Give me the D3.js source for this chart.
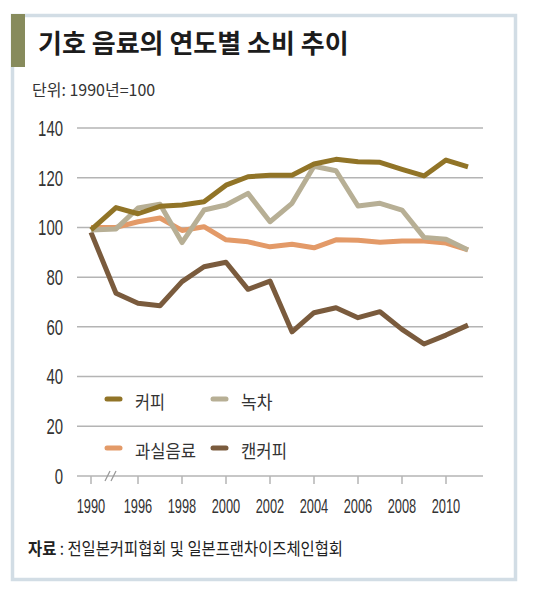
<!DOCTYPE html>
<html><head><meta charset="utf-8">
<script src="https://cdn.jsdelivr.net/npm/d3@7"></script>
<style>
html,body{margin:0;padding:0;background:#fff;}
svg{display:block;}
</style></head>
<body>
<svg id="chart" width="540" height="593"></svg>
<script>
const years = [1990, 1995, 1996, 1997, 1998, 1999, 2000, 2001, 2002, 2003, 2004, 2005, 2006, 2007, 2008, 2009, 2010, 2011];
const coffee = [99, 108, 105.5, 108.5, 109, 110.3, 117, 120.4, 121, 121, 125.5, 127.4, 126.4, 126.2, 123.4, 120.7, 127.1, 124.4];
const greenTea = [99, 99.4, 107.8, 109.3, 93.9, 107, 109, 113.7, 102.3, 109.7, 124.6, 122.8, 108.6, 109.7, 107, 96, 95.2, 90.9];
const juice = [100, 100, 102.3, 103.8, 98.8, 100.3, 95, 94.2, 92.2, 93.2, 91.8, 95, 94.8, 94, 94.5, 94.5, 93.7, 91];
const cannedCoffee = [98, 73.5, 69.5, 68.5, 78.2, 84.2, 86, 75.1, 78.4, 58, 65.7, 67.7, 63.7, 66.1, 59, 53.1, 56.7, 60.7];
const seriesNames = ["커피", "녹차", "과실음료", "캔커피"];
const tickYears = [1990, 1996, 1998, 2000, 2002, 2004, 2006, 2008, 2010];
const yTicks = [0, 20, 40, 60, 80, 100, 120, 140];
const title = "기호 음료의 연도별 소비 추이";
const unitText = "단위: 1990년=100";
const sourceLabel = "자료";
const sourceText = " : 전일본커피협회 및 일본프랜차이즈체인협회";

const colors = {"커피": "#917427", "녹차": "#b7af95", "과실음료": "#e39a68", "캔커피": "#7a5b3d"};
const seriesData = {"커피": coffee, "녹차": greenTea, "과실음료": juice, "캔커피": cannedCoffee};

const svg = d3.select("#chart");
const KR = "'Noto Sans CJK KR','Noto Sans',sans-serif";
const NUM = "'Liberation Sans',Arial,sans-serif";

// frame
svg.append("rect").attr("x", 12.5).attr("y", 15.5).attr("width", 503).attr("height", 564)
  .attr("fill", "#fff").attr("stroke", "#d2dde5").attr("stroke-width", 3.5);
svg.append("rect").attr("x", 11).attr("y", 14).attr("width", 14).attr("height", 53).attr("fill", "#878b5c");

svg.append("text").attr("x", 38).attr("y", 53).attr("font-family", KR).attr("font-weight", 700)
  .attr("font-size", 26).attr("fill", "#1c1c1c").text(title);
svg.append("text").attr("x", 32).attr("y", 96).attr("font-family", KR)
  .attr("font-size", 16).attr("fill", "#333").text(unitText);

const x = d3.scaleLinear().domain([1990, 1995, 2011]).range([91, 116, 468]);
const y = d3.scaleLinear().domain([0, 140]).range([476, 128]);
const left = 77, right = 483;

// grid
svg.append("g").selectAll("line").data(yTicks).join("line")
  .attr("x1", left).attr("x2", right).attr("y1", d => y(d)).attr("y2", d => y(d))
  .attr("stroke", "#b4b4b4").attr("stroke-width", 1.5);

// y labels
svg.append("g").selectAll("text").data(yTicks).join("text")
  .attr("x", 63).attr("y", d => y(d)).attr("dy", "0.36em").attr("text-anchor", "end")
  .attr("font-family", NUM).attr("font-size", 22).attr("fill", "#333")
  .attr("textLength", d => String(d).length * 8.3).attr("lengthAdjust", "spacingAndGlyphs")
  .text(d => d);

// x axis ticks
svg.append("g").selectAll("line").data(tickYears).join("line")
  .attr("x1", d => x(d)).attr("x2", d => x(d)).attr("y1", y(0)).attr("y2", y(0) + 8)
  .attr("stroke", "#b4b4b4").attr("stroke-width", 1.5);
svg.append("g").selectAll("text").data(tickYears).join("text")
  .attr("x", d => x(d)).attr("y", 513).attr("text-anchor", "middle")
  .attr("font-family", NUM).attr("font-size", 21).attr("fill", "#333")
  .attr("textLength", 28.5).attr("lengthAdjust", "spacingAndGlyphs")
  .text(d => d);

// axis break marks
const bx = (x(1990) + x(1995)) / 2 + 7;
[-3, 3].forEach(o => {
  svg.append("line").attr("x1", bx + o - 2.5).attr("y1", y(0) + 5).attr("x2", bx + o + 2.5).attr("y2", y(0) - 5)
    .attr("stroke", "#999").attr("stroke-width", 1.3);
});

// lines
const line = d3.line().x((d, i) => x(years[i])).y(d => y(d));
["캔커피", "과실음료", "녹차", "커피"].forEach(name => {
  svg.append("path").datum(seriesData[name]).attr("d", line)
    .attr("fill", "none").attr("stroke", colors[name]).attr("stroke-width", 5)
    .attr("stroke-linejoin", "round").attr("stroke-linecap", "butt");
});

// legend
const legendPos = [[105, 399], [211, 399], [105, 448], [211, 448]];
const legendW = {"커피": 30, "녹차": 31.5, "과실음료": 61, "캔커피": 46};
seriesNames.forEach((name, i) => {
  const [lx, ly] = legendPos[i];
  svg.append("line").attr("x1", lx + 2).attr("x2", lx + 15).attr("y1", ly).attr("y2", ly)
    .attr("stroke", colors[name]).attr("stroke-width", 5).attr("stroke-linecap", "round");
  svg.append("text").attr("x", lx + 30).attr("y", ly + 2).attr("dominant-baseline", "central")
    .attr("font-family", KR).attr("font-size", 18).attr("fill", "#333")
    .attr("textLength", legendW[name]).attr("lengthAdjust", "spacingAndGlyphs").text(name);
});

// source
const src = svg.append("text").attr("x", 28).attr("y", 555).attr("font-family", KR)
  .attr("font-size", 17).attr("fill", "#222")
  .attr("textLength", 315).attr("lengthAdjust", "spacingAndGlyphs");
src.append("tspan").attr("font-weight", 700).text(sourceLabel);
src.append("tspan").text(sourceText);
</script>
</body></html>
